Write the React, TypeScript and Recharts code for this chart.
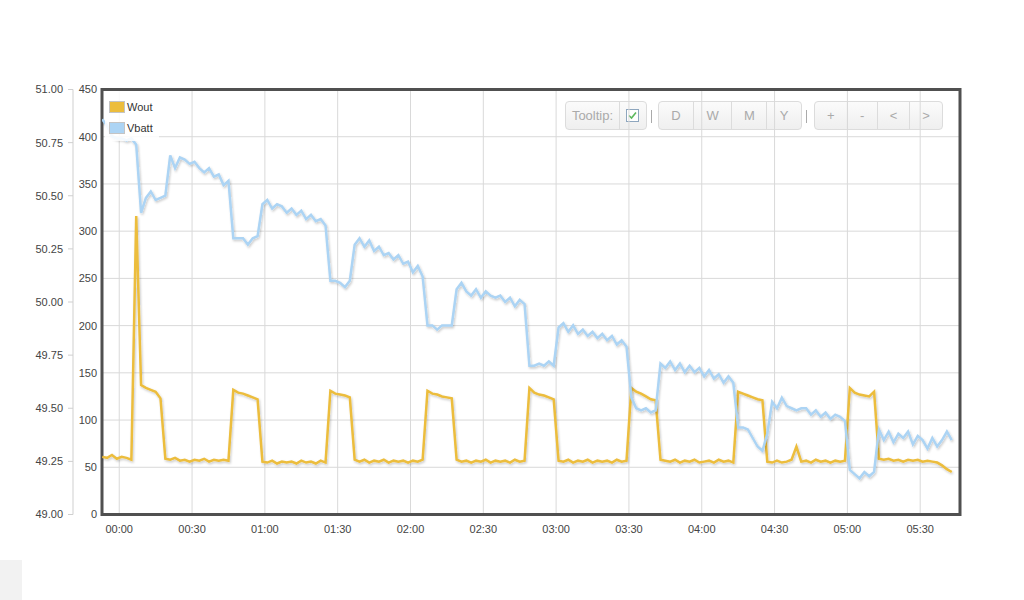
import React from 'react';
import {
  LineChart,
  Line,
  XAxis,
  YAxis,
  CartesianGrid,
  Legend,
  ReferenceArea
} from 'recharts';

// minutes since 00:00, one sample every 2 minutes
const minutes: number[] = Array.from({ length: 176 }, (_, i) => -7 + 2 * i);

// battery voltage (V)
const vbatt: number[] = [
  50.86, 50.83, 50.78, 50.77, 50.77, 50.76, 50.77, 50.74, 50.42, 50.49,
  50.52, 50.48, 50.49, 50.50, 50.69, 50.63, 50.68, 50.67, 50.65, 50.66,
  50.63, 50.61, 50.63, 50.59, 50.60, 50.55, 50.57, 50.30, 50.30, 50.30,
  50.27, 50.30, 50.31, 50.46, 50.48, 50.44, 50.46, 50.45, 50.42, 50.44,
  50.41, 50.43, 50.39, 50.41, 50.38, 50.39, 50.36, 50.10, 50.10, 50.09,
  50.07, 50.10, 50.27, 50.30, 50.26, 50.29, 50.24, 50.26, 50.22, 50.23,
  50.20, 50.22, 50.18, 50.19, 50.14, 50.17, 50.12, 49.89, 49.89, 49.87,
  49.89, 49.89, 49.89, 50.06, 50.09, 50.05, 50.03, 50.06, 50.02, 50.05,
  50.03, 50.02, 50.03, 50.00, 50.02, 49.98, 50.01, 49.99, 49.70, 49.70,
  49.71, 49.70, 49.72, 49.70, 49.88, 49.90, 49.86, 49.89, 49.85, 49.87,
  49.84, 49.86, 49.83, 49.85, 49.82, 49.84, 49.80, 49.82, 49.79, 49.55,
  49.50, 49.49, 49.50, 49.48, 49.49, 49.71, 49.69, 49.72, 49.68, 49.71,
  49.67, 49.70, 49.67, 49.69, 49.65, 49.68, 49.64, 49.66, 49.62, 49.65,
  49.62, 49.41, 49.41, 49.40, 49.36, 49.32, 49.30, 49.38, 49.53, 49.50,
  49.55, 49.51, 49.50, 49.49, 49.50, 49.50, 49.47, 49.49, 49.46, 49.48,
  49.45, 49.47, 49.46, 49.44, 49.21, 49.19, 49.17, 49.20, 49.18, 49.20,
  49.40, 49.35, 49.39, 49.34, 49.38, 49.36, 49.39, 49.33, 49.37, 49.35,
  49.31, 49.36, 49.32, 49.35, 49.39, 49.35
];

// output power (W)
const wout: number[] = [
  61, 60, 63, 59, 61, 60, 58, 316, 137, 134,
  132, 130, 123, 59, 58, 60, 57, 58, 56, 58,
  57, 59, 56, 58, 57, 58, 57, 132, 129, 128,
  126, 124, 122, 56, 55, 57, 54, 56, 55, 56,
  54, 57, 55, 56, 54, 57, 55, 131, 128, 127,
  126, 124, 58, 56, 58, 55, 57, 56, 58, 55,
  57, 56, 57, 55, 57, 56, 58, 131, 128, 127,
  125, 124, 123, 58, 56, 57, 55, 57, 56, 58,
  55, 57, 56, 57, 55, 58, 56, 57, 134, 129,
  127, 126, 124, 122, 57, 56, 58, 55, 57, 56,
  58, 55, 57, 56, 57, 55, 58, 56, 57, 134,
  130, 128, 125, 122, 121, 58, 57, 56, 58, 55,
  57, 56, 58, 55, 56, 57, 55, 58, 56, 57,
  55, 130, 128, 126, 124, 122, 121, 56, 55, 57,
  55, 56, 58, 72, 56, 57, 55, 58, 56, 57,
  55, 57, 56, 57, 134, 129, 127, 126, 125, 130,
  59, 58, 59, 57, 58, 56, 58, 57, 58, 56,
  57, 56, 55, 52, 48, 45
];

const seriesOrder = ['Wout', 'Vbatt'];
const timeTicks = [0, 30, 60, 90, 120, 150, 180, 210, 240, 270, 300, 330];
const voltTicks = [49, 49.25, 49.5, 49.75, 50, 50.25, 50.5, 50.75, 51];
const wattTicks = [0, 50, 100, 150, 200, 250, 300, 350, 400, 450];
const rangeButtons = ['D', 'W', 'M', 'Y'];
const navButtons = ['+', '-', '<', '>'];

const data = minutes.map((m, i) => ({ min: m, Wout: wout[i], Vbatt: vbatt[i] }));

// axis ids: inner axis (watts) next to the plot, outer axis (volts) further left
const WATT_AXIS = 'a';
const VOLT_AXIS = 'b';

const WOUT_COLOR = '#ecbd3d';
const VBATT_COLOR = '#acd4f4';
const FONT = '"Liberation Sans", Arial, sans-serif';
const X_DOMAIN: [number, number] = [-7.1, 346.4];

const fmtTime = (m: number) =>
  `${String(Math.floor(m / 60)).padStart(2, '0')}:${String(m % 60).padStart(2, '0')}`;

const tickStyle = { fill: '#444', fontSize: 11, fontFamily: FONT };

const LegendBox = ({ payload }: any) => {
  const items = [...(payload || [])].sort(
    (a: any, b: any) => seriesOrder.indexOf(a.value) - seriesOrder.indexOf(b.value)
  );
  return (
    <div style={{ background: 'rgba(255,255,255,0.85)', padding: '5px 4px 3px 4px', fontFamily: FONT, fontSize: 11, color: '#333' }}>
      {items.map((p: any) => (
        <div key={p.value} style={{ display: 'flex', alignItems: 'center', height: 21 }}>
          <span style={{ display: 'inline-block', width: 14, height: 10, background: p.color, border: '1px solid #c4c4c4', marginRight: 2 }} />
          <span>{p.value}</span>
        </div>
      ))}
    </div>
  );
};

const btn: React.CSSProperties = {
  display: 'flex',
  alignItems: 'center',
  justifyContent: 'center',
  height: '100%',
  color: '#aaa',
  fontSize: 13,
};

const group: React.CSSProperties = {
  position: 'absolute',
  top: 101,
  height: 29,
  display: 'flex',
  border: '1px solid #dcdcdc',
  borderRadius: 4,
  background: 'linear-gradient(#fbfbfb, #efefef)',
  boxSizing: 'border-box',
  fontFamily: FONT,
};

const Toolbar = () => (
  <div style={{ position: 'absolute', left: 0, top: 0, width: 1024, height: 600, zIndex: 0 }}>
    <div style={{ ...group, left: 565, width: 82 }}>
      <div style={{ ...btn, width: 55 }}>Tooltip:</div>
      <div style={{ ...btn, width: 27, borderLeft: '1px solid #dcdcdc' }}>
        <svg width={13} height={13}>
          <rect x={0.5} y={0.5} width={12} height={12} fill="#fff" stroke="#8ea6be" />
          <polyline points="3,6.5 5.5,9 10,3.5" fill="none" stroke="#5cb85c" strokeWidth={1.6} />
        </svg>
      </div>
    </div>
    <div style={{ position: 'absolute', left: 651, top: 110, width: 1, height: 13, background: '#aaa' }} />
    <div style={{ ...group, left: 658, width: 144 }}>
      {rangeButtons.map((b, i) => (
        <div key={b} style={{ ...btn, width: i === 1 ? 39 : 35, borderLeft: i ? '1px solid #dcdcdc' : 'none' }}>{b}</div>
      ))}
    </div>
    <div style={{ position: 'absolute', left: 806, top: 110, width: 1, height: 13, background: '#aaa' }} />
    <div style={{ ...group, left: 814, width: 129 }}>
      {navButtons.map((b, i) => (
        <div key={b} style={{ ...btn, width: i === 1 ? 30 : 33, borderLeft: i ? '1px solid #dcdcdc' : 'none' }}>{b}</div>
      ))}
    </div>
    <div style={{ position: 'absolute', left: 0, top: 560, width: 22, height: 40, background: '#f2f2f2' }} />
  </div>
);

export default function App() {
  return (
    <div style={{ position: 'absolute', left: 0, top: 0, width: 1024, height: 600, background: '#fff' }}>
      <Toolbar />
      <div style={{ position: 'absolute', left: 0, top: 0, zIndex: 1 }}>
        <LineChart
          width={1024}
          height={600}
          data={data}
          margin={{ top: 89.5, right: 64, bottom: 55.5, left: 0 }}
          style={{ fontFamily: FONT }}
        >
          <defs>
            <filter id="lineShadow" x="-2%" y="-5%" width="104%" height="115%">
              <feDropShadow dx="1" dy="1.5" stdDeviation="0.9" floodColor="#000" floodOpacity="0.22" />
            </filter>
          </defs>
          <CartesianGrid yAxisId={WATT_AXIS} stroke="#d9d9d9" />
          <XAxis
            dataKey="min"
            type="number"
            domain={X_DOMAIN}
            allowDataOverflow
            ticks={timeTicks}
            tickFormatter={fmtTime}
            axisLine={false}
            tickLine={false}
            tickSize={0}
            tickMargin={11}
            height={30}
            tick={tickStyle}
          />
          <YAxis
            yAxisId={WATT_AXIS}
            domain={[0, 450]}
            ticks={wattTicks}
            width={29}
            axisLine={false}
            tickLine={false}
            tickSize={0}
            tickMargin={5}
            tick={tickStyle}
          />
          <YAxis
            yAxisId={VOLT_AXIS}
            domain={[49, 51]}
            ticks={voltTicks}
            tickFormatter={(v: number) => v.toFixed(2)}
            width={73}
            axisLine={{ stroke: '#cfcfcf' }}
            tickLine={{ stroke: '#cfcfcf' }}
            tickSize={5}
            tickMargin={5}
            tick={tickStyle}
          />
          <Line
            yAxisId={WATT_AXIS}
            dataKey="Wout"
            name="Wout"
            type="linear"
            stroke={WOUT_COLOR}
            strokeWidth={2.5}
            dot={false}
            activeDot={false}
            filter="url(#lineShadow)"
            isAnimationActive={false}
          />
          <Line
            yAxisId={VOLT_AXIS}
            dataKey="Vbatt"
            name="Vbatt"
            type="linear"
            stroke={VBATT_COLOR}
            strokeWidth={2.5}
            dot={false}
            activeDot={false}
            filter="url(#lineShadow)"
            isAnimationActive={false}
          />
          <ReferenceArea
            yAxisId={WATT_AXIS}
            x1={X_DOMAIN[0]}
            x2={X_DOMAIN[1]}
            y1={0}
            y2={450}
            fill="none"
            stroke="#505050"
            strokeWidth={3}
            ifOverflow="visible"
          />
          <Legend
            layout="vertical"
            align="center"
            verticalAlign="middle"
            content={<LegendBox />}
            wrapperStyle={{ left: 105, top: 91, width: 54, height: 'auto' }}
          />
        </LineChart>
      </div>
    </div>
  );
}
